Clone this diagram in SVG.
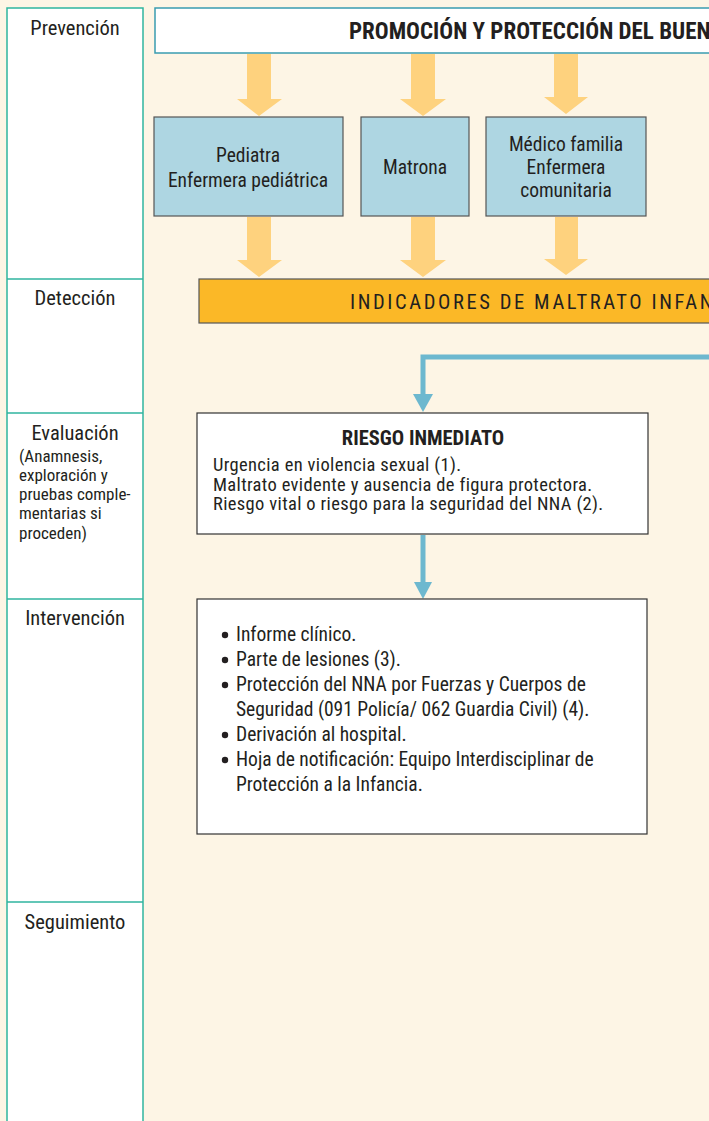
<svg xmlns="http://www.w3.org/2000/svg" width="709" height="1121" viewBox="0 0 709 1121">
<defs>
<style>
text{font-family:"Liberation Sans Narrow","Roboto Condensed","DejaVu Sans Condensed","Liberation Sans",sans-serif;fill:#231f20;}
.lab{font-size:20.5px;text-anchor:middle;}
.sub{font-size:17px;}
.bx{font-size:19.5px;text-anchor:middle;}
.body{font-size:19.5px;}
.rb{font-size:18.5px;letter-spacing:0.35px;}
.col{fill:#ffffff;stroke:#2fb59f;stroke-width:1.5;}
.blue{fill:#aed6e2;stroke:#555555;stroke-width:1.2;}
.white{fill:#ffffff;stroke:#333333;stroke-width:1.2;}
.oarrow{fill:#fed27e;}
.conn{fill:none;stroke:#6db8cf;stroke-width:5;}
.chead{fill:#6db8cf;}
</style>
</defs>
<rect x="0" y="0" width="709" height="1121" fill="#fdf5e5"/>

<g id="lane-column">
<rect class="col" x="7" y="8" width="136" height="1125"/>
<line x1="7" y1="279" x2="143" y2="279" stroke="#2fb59f" stroke-width="1.5"/>
<line x1="7" y1="413" x2="143" y2="413" stroke="#2fb59f" stroke-width="1.5"/>
<line x1="7" y1="599" x2="143" y2="599" stroke="#2fb59f" stroke-width="1.5"/>
<line x1="7" y1="902" x2="143" y2="902" stroke="#2fb59f" stroke-width="1.5"/>
</g>
<g id="lane-prevencion"><text class="lab" x="75" y="35">Prevención</text></g>
<g id="lane-deteccion"><text class="lab" x="75" y="305">Detección</text></g>
<g id="lane-evaluacion">
<text class="lab" x="75" y="440">Evaluación</text>
<text class="sub" x="19" y="462">(Anamnesis,</text>
<text class="sub" x="19" y="481">exploración y</text>
<text class="sub" x="19" y="500">pruebas comple-</text>
<text class="sub" x="19" y="519">mentarias si</text>
<text class="sub" x="19" y="539">proceden)</text>
</g>
<g id="lane-intervencion"><text class="lab" x="75" y="625">Intervención</text></g>
<g id="lane-seguimiento"><text class="lab" x="75" y="929">Seguimiento</text></g>

<g id="header">
<rect x="155" y="8" width="570" height="45" fill="#ffffff" stroke="#3a9cb0" stroke-width="1.5"/>
<text x="349" y="39" style="font-size:23px;font-weight:bold">PROMOCIÓN Y PROTECCIÓN DEL BUEN</text>
</g>

<g id="connectors">
<polygon class="oarrow" points="247,54 271,54 271,99 282,99 259,116 237,99 247,99"/>
<polygon class="oarrow" points="411,54 435,54 435,99 446,99 423,116 400,99 411,99"/>
<polygon class="oarrow" points="554,54 578,54 578,97 588,97 566,114 544,97 554,97"/>
<polygon class="oarrow" points="247,217 271,217 271,260 282,260 259,277 237,260 247,260"/>
<polygon class="oarrow" points="411,217 435,217 435,260 446,260 423,277 400,260 411,260"/>
<polygon class="oarrow" points="555,217 578,217 578,259 588,259 566,275 544,259 555,259"/>
<polyline class="conn" points="715,357 423,357 423,396"/>
<polygon class="chead" points="413,394 433,394 423,412"/>
<line class="conn" x1="423" y1="535" x2="423" y2="584"/>
<polygon class="chead" points="414,582 432,582 423,599"/>
</g>

<g id="node-pediatra">
<rect class="blue" x="154" y="117" width="189" height="99"/>
<text class="bx" x="248" y="162">Pediatra</text>
<text class="bx" x="248" y="187">Enfermera pediátrica</text>
</g>
<g id="node-matrona">
<rect class="blue" x="361" y="117" width="108" height="99"/>
<text class="bx" x="415" y="174">Matrona</text>
</g>
<g id="node-medico">
<rect class="blue" x="486" y="117" width="160" height="99"/>
<text class="bx" x="566" y="151">Médico familia</text>
<text class="bx" x="566" y="174">Enfermera</text>
<text class="bx" x="566" y="197">comunitaria</text>
</g>

<g id="node-indicadores">
<rect x="199" y="279" width="530" height="44" fill="#fbb827" stroke="#555555" stroke-width="1.2"/>
<text x="350" y="309" style="font-size:20.5px;letter-spacing:2.6px">INDICADORES DE MALTRATO INFAN</text>
</g>

<g id="node-riesgo">
<rect class="white" x="197" y="413" width="451" height="121"/>
<text x="423" y="445" style="font-size:20.5px;font-weight:bold;text-anchor:middle">RIESGO INMEDIATO</text>
<text class="rb" x="213" y="471">Urgencia en violencia sexual (1).</text>
<text class="rb" x="213" y="490.5">Maltrato evidente y ausencia de figura protectora.</text>
<text class="rb" x="213" y="510">Riesgo vital o riesgo para la seguridad del NNA (2).</text>
</g>

<g id="node-intervencion">
<rect class="white" x="197" y="599" width="450" height="235"/>
<g fill="#231f20">
<circle cx="225" cy="635" r="3.2"/>
<circle cx="225" cy="660" r="3.2"/>
<circle cx="225" cy="685" r="3.2"/>
<circle cx="225" cy="735" r="3.2"/>
<circle cx="225" cy="760" r="3.2"/>
</g>
<text class="body" x="236" y="641">Informe clínico.</text>
<text class="body" x="236" y="666">Parte de lesiones (3).</text>
<text class="body" x="236" y="691">Protección del NNA por Fuerzas y Cuerpos de</text>
<text class="body" x="236" y="716">Seguridad (091 Policía/ 062 Guardia Civil) (4).</text>
<text class="body" x="236" y="741">Derivación al hospital.</text>
<text class="body" x="236" y="766">Hoja de notificación: Equipo Interdisciplinar de</text>
<text class="body" x="236" y="791">Protección a la Infancia.</text>
</g>
</svg>
